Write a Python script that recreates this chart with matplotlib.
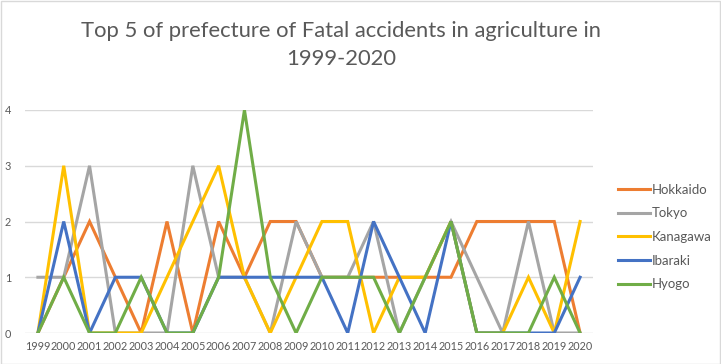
import matplotlib
matplotlib.use("Agg")
import matplotlib.pyplot as plt

years = [str(y) for y in range(1999, 2021)]
hokkaido = [0, 1, 2, 1, 0, 2, 0, 2, 1, 2, 2, 1, 1, 1, 1, 1, 1, 2, 2, 2, 2, 0]
tokyo    = [1, 1, 3, 0, 0, 0, 3, 1, 1, 0, 2, 1, 1, 2, 0, 1, 2, 1, 0, 2, 0, 0]
kanagawa = [0, 3, 0, 0, 0, 1, 2, 3, 1, 0, 1, 2, 2, 0, 1, 1, 2, 0, 0, 1, 0, 2]
ibaraki  = [0, 2, 0, 1, 1, 0, 0, 1, 1, 1, 1, 1, 0, 2, 1, 0, 2, 0, 0, 0, 0, 1]
hyogo    = [0, 1, 0, 0, 1, 0, 0, 1, 4, 1, 0, 1, 1, 1, 0, 1, 2, 0, 0, 0, 1, 0]

series = [("Hokkaido", hokkaido, "#ED7D31"),
          ("Tokyo", tokyo, "#A5A5A5"),
          ("Kanagawa", kanagawa, "#FFC000"),
          ("Ibaraki", ibaraki, "#4472C4"),
          ("Hyogo", hyogo, "#70AD47")]

plt.rcParams['font.family'] = ['Lato', 'DejaVu Sans']

fig = plt.figure(figsize=(7.21, 3.64), dpi=100)
W, H = 721, 364
ax = fig.add_axes([25 / W, 1 - 333 / H, (593 - 25) / W, (333 - 110) / H])

x = list(range(len(years)))
for name, vals, col in series:
    ax.plot(x, vals, color=col, lw=2.2, label=name, solid_joinstyle='miter')

ax.set_xlim(-0.5, len(years) - 0.5)
ax.set_ylim(0, 4)
ax.set_yticks([0, 1, 2, 3, 4])
ax.set_xticks(x)
ax.set_xticklabels(years)
ax.tick_params(axis='both', length=0, labelsize=7.8, colors='#595959')
ax.tick_params(axis='x', pad=6)
ax.tick_params(axis='y', pad=10)
ax.grid(axis='y', color='#D9D9D9', lw=1)
ax.set_axisbelow(True)
for s in ax.spines.values():
    s.set_visible(False)

fig.text(341 / W, 1 - 45 / H, "Top 5 of prefecture of Fatal accidents in agriculture in\n1999-2020",
         ha='center', va='center', fontsize=15.8, color='#595959', linespacing=1.45,
         fontweight='normal')

leg = ax.legend(loc='center left', bbox_to_anchor=(606 / W, 1 - 237 / H),
                bbox_transform=fig.transFigure, frameon=False, fontsize=9.5,
                labelspacing=0.88, handlelength=2.4, handletextpad=0.2)
for t in leg.get_texts():
    t.set_color('#595959')

border = plt.Rectangle((0.5 / W, 0.5 / H), 1 - 1.5 / W, 1 - 1.5 / H, transform=fig.transFigure,
                       fill=False, edgecolor='#D9D9D9', lw=1)
fig.patches.append(border)

fig.savefig("out.png", dpi=100)
